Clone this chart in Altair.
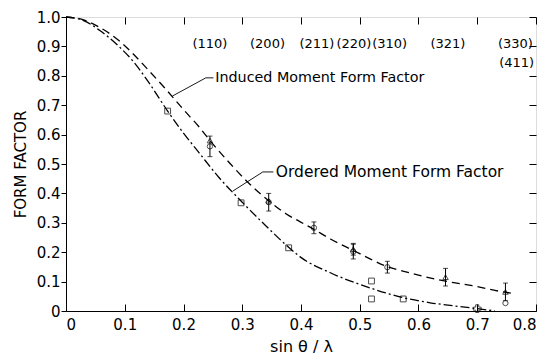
import altair as alt
import pandas as pd

# Curves
induced_x = [0.0, 0.03, 0.057, 0.09, 0.114, 0.14, 0.171, 0.2, 0.227, 0.245, 0.28, 0.31, 0.345, 0.375, 0.398, 0.42, 0.45, 0.49, 0.52, 0.545, 0.575, 0.6, 0.65, 0.7, 0.73, 0.76]
induced_y = [1.0, 0.99, 0.965, 0.92, 0.875, 0.82, 0.752, 0.685, 0.625, 0.58, 0.5, 0.437, 0.375, 0.33, 0.304, 0.28, 0.245, 0.205, 0.175, 0.152, 0.135, 0.122, 0.1, 0.083, 0.07, 0.06]
ordered_x = [0.0, 0.03, 0.057, 0.09, 0.114, 0.14, 0.173, 0.2, 0.227, 0.26, 0.3, 0.34, 0.38, 0.398, 0.45, 0.511, 0.575, 0.62, 0.65, 0.7, 0.73]
ordered_y = [1.0, 0.988, 0.955, 0.9, 0.85, 0.78, 0.68, 0.605, 0.537, 0.455, 0.37, 0.29, 0.215, 0.185, 0.13, 0.083, 0.045, 0.028, 0.02, 0.008, 0.0]

# Ordered moment data (squares, plus)
sq_x = [0.173, 0.298, 0.379, 0.52, 0.52, 0.574]
sq_y = [0.68, 0.368, 0.215, 0.102, 0.041, 0.041]
plus_x = [0.70]
plus_y = [0.008]

# Induced moment data (circles, triangles) with error bars
circ_x = [0.245, 0.345, 0.422, 0.489, 0.547, 0.748]
circ_y = [0.56, 0.37, 0.283, 0.202, 0.149, 0.027]
circ_err = [0.035, 0.03, 0.02, 0.025, 0.02, 0.0]
tri_x = [0.245, 0.345, 0.489, 0.646, 0.748]
tri_y = [0.58, 0.375, 0.21, 0.115, 0.065]
tri_err = [0.0, 0.0, 0.02, 0.03, 0.03]

# hkl labels on top
hkl_labels = ["(110)", "(200)", "(211)", "(220)", "(310)", "(321)", "(330)", "(411)"]
hkl_x = [0.245, 0.343, 0.427, 0.49, 0.551, 0.65, 0.765, 0.767]
hkl_y = [0.908, 0.908, 0.908, 0.908, 0.908, 0.908, 0.908, 0.843]

# annotations
ann_text = ["Induced Moment Form Factor", "Ordered Moment Form Factor"]
ann_size = [14.3, 15.5]
ann_x = [0.254, 0.357]
ann_y = [0.793, 0.473]
lead_ind_x = [0.181, 0.238, 0.251]
lead_ind_y = [0.731, 0.793, 0.793]
lead_ord_x = [0.284, 0.335, 0.353]
lead_ord_y = [0.408, 0.473, 0.473]

xticks = [0, 0.1, 0.2, 0.3, 0.4, 0.5, 0.6, 0.7, 0.8]
yticks = [0, 0.1, 0.2, 0.3, 0.4, 0.5, 0.6, 0.7, 0.8, 0.9, 1.0]

W, H = 470, 294
FONT = "DejaVu Sans"

xs = alt.Scale(domain=[0, 0.8], nice=False, zero=False)
ys = alt.Scale(domain=[0, 1.0], nice=False, zero=False)

curve_df = pd.DataFrame(
    {"x": induced_x + ordered_x,
     "y": induced_y + ordered_y,
     "s": ["induced"] * len(induced_x) + ["ordered"] * len(ordered_x),
     "o": list(range(len(induced_x))) + list(range(len(ordered_x)))}
)

x_main = alt.X("x:Q", scale=xs, title="sin θ / λ",
               axis=alt.Axis(values=xticks, ticks=False, domain=True, domainColor="black",
                             labelExpr="datum.value == 0 ? '0' : format(datum.value, '.1f')",
                             labelFont=FONT, labelFontSize=15, labelColor="black", labelPadding=6,
                             titleFont=FONT, titleFontSize=16, titleFontWeight="normal",
                             titleColor="black", titlePadding=6, grid=False))
y_main = alt.Y("y:Q", scale=ys, title="FORM FACTOR",
               axis=alt.Axis(values=yticks, tickSize=5, tickColor="black", domainColor="black",
                             labelExpr="datum.value == 0 ? '0' : format(datum.value, '.1f')",
                             labelFont=FONT, labelFontSize=15, labelColor="black", labelPadding=1,
                             titleFont=FONT, titleFontSize=15, titleFontWeight="normal",
                             titleColor="black", titlePadding=8, grid=False))

induced_line = alt.Chart(curve_df[curve_df.s == "induced"]).mark_line(
    color="black", strokeWidth=1.3, strokeDash=[8, 5], interpolate="monotone"
).encode(x=x_main, y=y_main, order="o:Q")

ordered_line = alt.Chart(curve_df[curve_df.s == "ordered"]).mark_line(
    color="black", strokeWidth=1.3, strokeDash=[9, 3, 2, 3], interpolate="monotone"
).encode(
    x=alt.X("x:Q", scale=xs, axis=alt.Axis(orient="top", offset=-H, values=xticks, labels=False,
                                            domain=False, tickSize=7, tickColor="black", grid=False, title=None)),
    y=alt.Y("y:Q", scale=ys, axis=alt.Axis(orient="left", offset=-W, values=yticks, labels=False,
                                            domain=False, tickSize=7, tickColor="black", grid=False, title=None)),
    order="o:Q")

sq_df = pd.DataFrame({"x": sq_x, "y": sq_y})
squares = alt.Chart(sq_df).mark_point(shape="square", filled=False, color="black", size=34, strokeWidth=1).encode(
    x=alt.X("x:Q", scale=xs, axis=alt.Axis(orient="bottom", offset=-H, values=xticks, labels=False,
                                            domain=False, tickSize=7, tickColor="black", grid=False, title=None)),
    y=alt.Y("y:Q", scale=ys, axis=None))

plus_df = pd.DataFrame({"x": plus_x, "y": plus_y})
plus = alt.Chart(plus_df).mark_point(shape="cross", filled=False, color="black", size=60, strokeWidth=1).encode(
    x=alt.X("x:Q", scale=xs, axis=None), y=alt.Y("y:Q", scale=ys, axis=None))

circ_df = pd.DataFrame({"x": circ_x, "y": circ_y, "lo": [a - b for a, b in zip(circ_y, circ_err)],
                        "hi": [a + b for a, b in zip(circ_y, circ_err)]})
tri_df = pd.DataFrame({"x": tri_x, "y": tri_y, "lo": [a - b for a, b in zip(tri_y, tri_err)],
                       "hi": [a + b for a, b in zip(tri_y, tri_err)]})
err_df = pd.concat([circ_df[circ_df.hi > circ_df.lo], tri_df[tri_df.hi > tri_df.lo]])

circles = alt.Chart(circ_df).mark_point(shape="circle", filled=False, color="black", size=28, strokeWidth=1).encode(
    x=alt.X("x:Q", scale=xs, axis=None), y=alt.Y("y:Q", scale=ys, axis=None))
triangles = alt.Chart(tri_df).mark_point(shape="triangle-up", filled=False, color="black", size=30, strokeWidth=1).encode(
    x=alt.X("x:Q", scale=xs, axis=None), y=alt.Y("y:Q", scale=ys, axis=None))

err_rule = alt.Chart(err_df).mark_rule(color="black", strokeWidth=1).encode(
    x=alt.X("x:Q", scale=xs, axis=None), y=alt.Y("lo:Q", scale=ys, axis=None), y2="hi:Q")
cap_hi = alt.Chart(err_df).mark_tick(color="black", thickness=1, size=5, orient="horizontal").encode(
    x=alt.X("x:Q", scale=xs, axis=None), y=alt.Y("hi:Q", scale=ys, axis=None))
cap_lo = alt.Chart(err_df).mark_tick(color="black", thickness=1, size=5, orient="horizontal").encode(
    x=alt.X("x:Q", scale=xs, axis=None), y=alt.Y("lo:Q", scale=ys, axis=None))

hkl_df = pd.DataFrame({"t": hkl_labels, "x": hkl_x, "y": hkl_y})
hkl = alt.Chart(hkl_df).mark_text(font=FONT, fontSize=13, color="black", align="center", baseline="middle").encode(
    x=alt.X("x:Q", scale=xs, axis=None), y=alt.Y("y:Q", scale=ys, axis=None), text="t:N")

ann_df = pd.DataFrame({"t": ann_text, "x": ann_x, "y": ann_y, "fs": ann_size})
ann = alt.Chart(ann_df).mark_text(font=FONT, color="black", align="left", baseline="middle").encode(
    x=alt.X("x:Q", scale=xs, axis=None), y=alt.Y("y:Q", scale=ys, axis=None), text="t:N",
    size=alt.Size("fs:Q", scale=None, legend=None))

lead_df = pd.DataFrame({"x": lead_ind_x + lead_ord_x, "y": lead_ind_y + lead_ord_y,
                        "g": ["a"] * len(lead_ind_x) + ["b"] * len(lead_ord_x),
                        "o": list(range(len(lead_ind_x))) + list(range(len(lead_ord_x)))})
leads = alt.Chart(lead_df).mark_line(color="black", strokeWidth=0.9).encode(
    x=alt.X("x:Q", scale=xs, axis=None), y=alt.Y("y:Q", scale=ys, axis=None), detail="g:N", order="o:Q")

chart = alt.layer(
    induced_line, ordered_line, squares, plus, circles, triangles, err_rule, cap_hi, cap_lo, hkl, ann, leads
).resolve_axis(x="independent", y="independent").properties(
    width=W, height=H,
    autosize=alt.AutoSizeParams(type="none"),
    padding={"left": 58, "top": 9, "right": 4, "bottom": 43},
).configure_view(stroke="black", strokeWidth=1).configure(background="white")

chart.save("out.html", embed_options={"renderer": "svg", "actions": False})
